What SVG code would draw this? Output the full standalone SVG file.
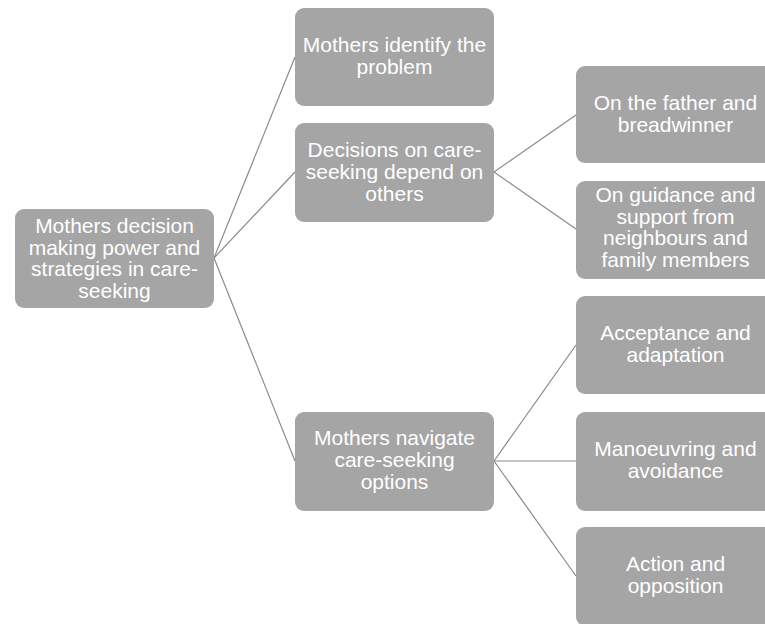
<svg xmlns="http://www.w3.org/2000/svg" width="765" height="624" viewBox="0 0 765 624">
<style>
.box{fill:#a5a5a5;}
.t{font-family:"Liberation Sans",Arial,sans-serif;font-size:21px;fill:#ffffff;text-anchor:middle;}
.c{stroke:#8a8a8a;stroke-width:1.2;fill:none;}
</style>
<rect width="765" height="624" fill="#ffffff"/>
<g id="connectors">
<line class="c" x1="214" y1="258" x2="295" y2="57"/>
<line class="c" x1="214" y1="258" x2="295" y2="172"/>
<line class="c" x1="214" y1="258" x2="295" y2="461"/>
<line class="c" x1="494" y1="172" x2="576" y2="115"/>
<line class="c" x1="494" y1="172" x2="576" y2="229"/>
<line class="c" x1="494" y1="461" x2="576" y2="345"/>
<line class="c" x1="494" y1="461" x2="576" y2="461"/>
<line class="c" x1="494" y1="461" x2="576" y2="576"/>
</g>
<g id="root">
<rect class="box" x="15" y="209" width="199" height="99" rx="9"/>
<text class="t"><tspan x="114.5" y="233">Mothers decision</tspan><tspan x="114.5" y="254.5">making power and</tspan><tspan x="114.5" y="276">strategies in care-</tspan><tspan x="114.5" y="297.5">seeking</tspan></text>
</g>
<g id="identify">
<rect class="box" x="295" y="8" width="199" height="98" rx="9"/>
<text class="t"><tspan x="394.5" y="52">Mothers identify the</tspan><tspan x="394.5" y="74">problem</tspan></text>
</g>
<g id="depend">
<rect class="box" x="295" y="123" width="199" height="99" rx="9"/>
<text class="t"><tspan x="394.5" y="157">Decisions on care-</tspan><tspan x="394.5" y="179">seeking depend on</tspan><tspan x="394.5" y="201">others</tspan></text>
</g>
<g id="navigate">
<rect class="box" x="295" y="412" width="199" height="99" rx="9"/>
<text class="t"><tspan x="394.5" y="445">Mothers navigate</tspan><tspan x="394.5" y="467">care-seeking</tspan><tspan x="394.5" y="489">options</tspan></text>
</g>
<g id="father">
<rect class="box" x="576" y="66" width="199" height="97" rx="9"/>
<text class="t"><tspan x="675.5" y="110">On the father and</tspan><tspan x="675.5" y="132">breadwinner</tspan></text>
</g>
<g id="guidance">
<rect class="box" x="576" y="181" width="199" height="98" rx="9"/>
<text class="t"><tspan x="675.5" y="202">On guidance and</tspan><tspan x="675.5" y="223.5">support from</tspan><tspan x="675.5" y="245">neighbours and</tspan><tspan x="675.5" y="266.5">family members</tspan></text>
</g>
<g id="acceptance">
<rect class="box" x="576" y="296" width="199" height="98" rx="9"/>
<text class="t"><tspan x="675.5" y="340">Acceptance and</tspan><tspan x="675.5" y="362">adaptation</tspan></text>
</g>
<g id="manoeuvring">
<rect class="box" x="576" y="412" width="199" height="99" rx="9"/>
<text class="t"><tspan x="675.5" y="456">Manoeuvring and</tspan><tspan x="675.5" y="478">avoidance</tspan></text>
</g>
<g id="action">
<rect class="box" x="576" y="527" width="199" height="99" rx="9"/>
<text class="t"><tspan x="675.5" y="571">Action and</tspan><tspan x="675.5" y="593">opposition</tspan></text>
</g>
</svg>
